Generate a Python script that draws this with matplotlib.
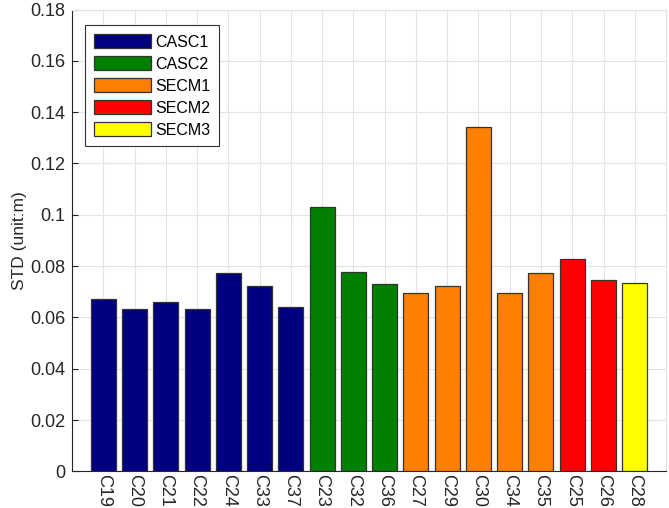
import matplotlib
matplotlib.use('Agg')
import matplotlib.pyplot as plt
from matplotlib.patches import Patch

plt.rcParams['font.family'] = ['Liberation Sans', 'DejaVu Sans']

# data
labels = ['C19', 'C20', 'C21', 'C22', 'C24', 'C33', 'C37',
          'C23', 'C32', 'C36',
          'C27', 'C29', 'C30', 'C34', 'C35',
          'C25', 'C26',
          'C28']
std_vals = [0.0671, 0.0632, 0.0659, 0.0632, 0.0774, 0.0722, 0.0642,
            0.1029, 0.0777, 0.0729,
            0.0694, 0.0721, 0.1342, 0.0694, 0.0773,
            0.0828, 0.0746,
            0.0735]
groups = ['CASC1'] * 7 + ['CASC2'] * 3 + ['SECM1'] * 5 + ['SECM2'] * 2 + ['SECM3']
group_names = ['CASC1', 'CASC2', 'SECM1', 'SECM2', 'SECM3']
group_colors = {'CASC1': (0, 0, 0.5), 'CASC2': (0, 0.5, 0), 'SECM1': (1, 0.5, 0),
                'SECM2': (1, 0, 0), 'SECM3': (1, 1, 0)}

fig = plt.figure(figsize=(6.69, 5.08), dpi=100)
ax = fig.add_axes((0.1076, 0.0722, 0.888, 0.909))

x = range(1, len(labels) + 1)
ax.bar(x, std_vals, width=0.8, color=[group_colors[g] for g in groups],
       edgecolor='#333333', linewidth=0.9, zorder=3)

ax.set_xlim(0, 19)
ax.set_ylim(0, 0.18)
ax.set_xticks(list(x))
ax.set_xticklabels(labels, rotation=-90, fontsize=13)
ax.set_yticks([0, 0.02, 0.04, 0.06, 0.08, 0.1, 0.12, 0.14, 0.16, 0.18])
ax.set_yticklabels(['0', '0.02', '0.04', '0.06', '0.08', '0.1', '0.12', '0.14', '0.16', '0.18'], fontsize=13)
ax.tick_params(direction='in', length=4, color='#262626', labelcolor='#262626')
ax.tick_params(axis='x', pad=2)
ax.tick_params(axis='y', pad=5)
ax.set_ylabel('STD (unit:m)', fontsize=12.5, color='#262626', labelpad=2)

# grid lines at every integer position incl. edges
for xv in range(0, 20):
    ax.axvline(xv, color='#e3e3e3', linewidth=0.8, zorder=0)
ax.yaxis.grid(True, color='#e3e3e3', linewidth=0.8, zorder=0)
ax.set_axisbelow(True)
for s in ['top', 'right']:
    ax.spines[s].set_color('#e3e3e3')
for s in ['left', 'bottom']:
    ax.spines[s].set_color('#262626')

handles = [Patch(facecolor=group_colors[g], edgecolor='#333333', linewidth=0.9) for g in group_names]
leg = ax.legend(handles, group_names, loc='upper left', bbox_to_anchor=(0.022, 0.966),
                borderaxespad=0, fontsize=11.5, handlelength=3.6, handleheight=1.0,
                labelspacing=0.4, handletextpad=0.25, borderpad=0.55,
                fancybox=False, framealpha=1, edgecolor='#333333')
leg.get_frame().set_linewidth(0.8)

fig.savefig('out.png', dpi=100)
